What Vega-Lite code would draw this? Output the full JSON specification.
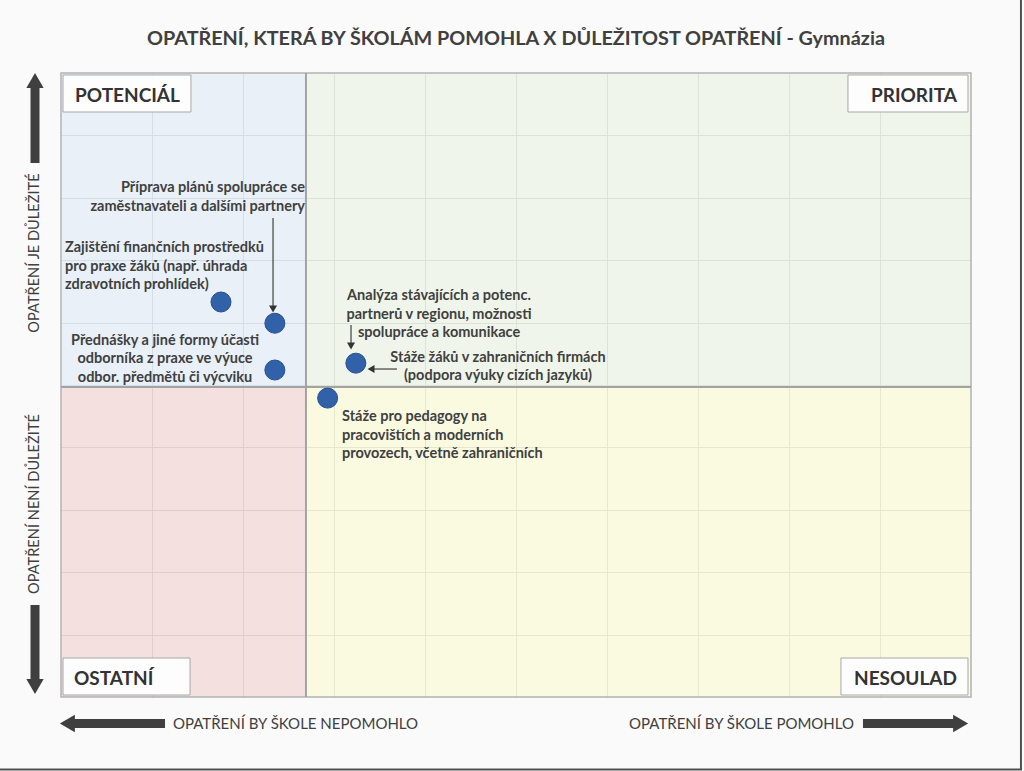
{
  "$schema": "https://vega.github.io/schema/vega-lite/v6.json",
  "width": 910,
  "height": 624,
  "autosize": {"type": "none"},
  "padding": {"left": 61, "top": 73, "right": 53, "bottom": 74},
  "background": "#fafafa",
  "title": {
    "text": "OPATŘENÍ, KTERÁ BY ŠKOLÁM POMOHLA X DŮLEŽITOST OPATŘENÍ - Gymnázia",
    "font": "Lato", "fontSize": 19.8, "fontWeight": "bold", "color": "#404040",
    "anchor": "middle", "frame": "group", "offset": -50
  },
  "config": {"view": {"stroke": null}},
  "datasets": {
    "quads": [
      {"q": "TL", "x": 0, "x2": 2.692, "y": 4.968, "y2": 10},
      {"q": "TR", "x": 2.692, "x2": 10, "y": 4.968, "y2": 10},
      {"q": "BL", "x": 0, "x2": 2.692, "y": 0, "y2": 4.968},
      {"q": "BR", "x": 2.692, "x2": 10, "y": 0, "y2": 4.968}
    ],
    "dividers": [
      {"x": 2.692, "x2": 2.692, "y": 0, "y2": 10},
      {"x": 0, "x2": 10, "y": 4.968, "y2": 4.968}
    ],
    "border": [{"x": 0, "x2": 10, "y": 0, "y2": 10}],
    "boxes": [
      {"label": "POTENCIÁL", "x": 0.022, "x2": 1.428, "y": 9.375, "y2": 9.968},
      {"label": "PRIORITA", "x": 8.648, "x2": 9.967, "y": 9.375, "y2": 9.968},
      {"label": "OSTATNÍ", "x": 0.022, "x2": 1.418, "y": 0.032, "y2": 0.625},
      {"label": "NESOULAD", "x": 8.571, "x2": 9.967, "y": 0.032, "y2": 0.625}
    ],
    "quadLabels": [
      {"label": "POTENCIÁL", "side": "left", "x": 0.154, "y": 9.625},
      {"label": "PRIORITA", "side": "right", "x": 9.846, "y": 9.625},
      {"label": "OSTATNÍ", "side": "left", "x": 0.143, "y": 0.29},
      {"label": "NESOULAD", "side": "right", "x": 9.846, "y": 0.29}
    ],
    "points": [
      {"name": "Zajištění finančních prostředků pro praxe žáků", "x": 1.758, "y": 6.33},
      {"name": "Příprava plánů spolupráce se zaměstnavateli a dalšími partnery", "x": 2.35, "y": 5.99},
      {"name": "Přednášky a jiné formy účasti odborníka z praxe", "x": 2.35, "y": 5.24},
      {"name": "Analýza partnerů / Stáže žáků v zahraničních firmách", "x": 3.24, "y": 5.35},
      {"name": "Stáže pro pedagogy na pracovištích", "x": 2.93, "y": 4.79}
    ],
    "notes": [
      {"text": "Příprava plánů spolupráce se\nzaměstnavateli a dalšími partnery", "align": "right", "x": 2.681, "y": 8.16},
      {"text": "Zajištění finančních prostředků\npro praxe žáků (např. úhrada\nzdravotních prohlídek)", "align": "left", "x": 0.044, "y": 7.2},
      {"text": "Přednášky a jiné formy účasti\nodborníka z praxe ve výuce\nodbor. předmětů či výcviku", "align": "center", "x": 1.143, "y": 5.71},
      {"text": "Analýza stávajících a potenc.\npartnerů v regionu, možnosti\nspolupráce a komunikace", "align": "center", "x": 4.154, "y": 6.43},
      {"text": "Stáže žáků v zahraničních firmách\n(podpora výuky cizích jazyků)", "align": "center", "x": 4.802, "y": 5.44},
      {"text": "Stáže pro pedagogy na\npracovištích a moderních\nprovozech, včetně zahraničních", "align": "left", "x": 3.088, "y": 4.49}
    ],
    "thinLines": [
      {"x": 2.33, "x2": 2.33, "y": 7.676, "y2": 6.266},
      {"x": 3.187, "x2": 3.187, "y": 5.962, "y2": 5.657},
      {"x": 3.692, "x2": 3.44, "y": 5.256, "y2": 5.256}
    ],
    "thinHeads": [
      {"dir": "down", "x": 2.33, "y": 6.218},
      {"dir": "down", "x": 3.187, "y": 5.625},
      {"dir": "left", "x": 3.407, "y": 5.256}
    ],
    "thickLines": [
      {"x": -0.2857, "x2": -0.2857, "y": 8.558, "y2": 9.776},
      {"x": -0.2857, "x2": -0.2857, "y": 1.474, "y2": 0.272},
      {"x": 1.143, "x2": 0.143, "y": -0.425, "y2": -0.425},
      {"x": 8.813, "x2": 9.813, "y": -0.425, "y2": -0.425}
    ],
    "thickHeads": [
      {"dir": "up", "x": -0.2857, "y": 9.881},
      {"dir": "down", "x": -0.2857, "y": 0.167},
      {"dir": "left", "x": 0.07, "y": -0.425},
      {"dir": "right", "x": 9.886, "y": -0.425}
    ],
    "axisTexts": [
      {"text": "OPATŘENÍ BY ŠKOLE NEPOMOHLO", "x": 2.577, "y": -0.44},
      {"text": "OPATŘENÍ BY ŠKOLE POMOHLO", "x": 7.478, "y": -0.44}
    ],
    "sideTexts": [
      {"text": "OPATŘENÍ JE DŮLEŽITÉ", "x": -0.2857, "y": 7.115},
      {"text": "OPATŘENÍ NENÍ DŮLEŽITÉ", "x": -0.2857, "y": 3.093}
    ],
    "frame": [
      {"x": 10.549, "x2": 10.549, "y": 11.17, "y2": -1.17},
      {"x": -0.68, "x2": 10.56, "y": -1.162, "y2": -1.162}
    ]
  },
  "layer": [
    {
      "data": {"name": "quads"},
      "mark": {"type": "rect", "opacity": 0.7},
      "encoding": {
        "x": {"field": "x", "type": "quantitative",
          "scale": {"domain": [0, 10], "nice": false, "zero": false},
          "axis": {"values": [1, 2, 3, 4, 5, 6, 7, 8, 9], "labels": false, "ticks": false, "domain": false, "title": null, "grid": true, "gridColor": "#bdbdbd", "gridWidth": 1}},
        "x2": {"field": "x2"},
        "y": {"field": "y", "type": "quantitative",
          "scale": {"domain": [0, 10], "nice": false, "zero": false},
          "axis": {"values": [1, 2, 3, 4, 5, 6, 7, 8, 9], "labels": false, "ticks": false, "domain": false, "title": null, "grid": true, "gridColor": "#bdbdbd", "gridWidth": 1}},
        "y2": {"field": "y2"},
        "color": {"field": "q", "type": "nominal", "legend": null,
          "scale": {"domain": ["TL", "TR", "BL", "BR"], "range": ["#e1ebf6", "#e9f2e2", "#f2d4d4", "#fafad4"]}}
      }
    },
    {
      "data": {"name": "border"},
      "mark": {"type": "rect", "fillOpacity": 0, "stroke": "#b3b3b3", "strokeWidth": 1.5},
      "encoding": {
        "x": {"field": "x", "type": "quantitative"}, "x2": {"field": "x2"},
        "y": {"field": "y", "type": "quantitative"}, "y2": {"field": "y2"}
      }
    },
    {
      "data": {"name": "dividers"},
      "mark": {"type": "rule", "color": "#a3a3a3", "strokeWidth": 2},
      "encoding": {
        "x": {"field": "x", "type": "quantitative"}, "x2": {"field": "x2"},
        "y": {"field": "y", "type": "quantitative"}, "y2": {"field": "y2"}
      }
    },
    {
      "data": {"name": "boxes"},
      "mark": {"type": "rect", "fill": "#fdfdfd", "stroke": "#a8a8a8", "strokeWidth": 1},
      "encoding": {
        "x": {"field": "x", "type": "quantitative"}, "x2": {"field": "x2"},
        "y": {"field": "y", "type": "quantitative"}, "y2": {"field": "y2"}
      }
    },
    {
      "data": {"name": "quadLabels"},
      "transform": [{"filter": "datum.side === 'left'"}],
      "mark": {"type": "text", "align": "left", "baseline": "middle", "font": "Lato", "fontSize": 19, "fontWeight": "bold", "color": "#333333"},
      "encoding": {
        "x": {"field": "x", "type": "quantitative"},
        "y": {"field": "y", "type": "quantitative"},
        "text": {"field": "label"}
      }
    },
    {
      "data": {"name": "quadLabels"},
      "transform": [{"filter": "datum.side === 'right'"}],
      "mark": {"type": "text", "align": "right", "baseline": "middle", "font": "Lato", "fontSize": 19, "fontWeight": "bold", "color": "#333333"},
      "encoding": {
        "x": {"field": "x", "type": "quantitative"},
        "y": {"field": "y", "type": "quantitative"},
        "text": {"field": "label"}
      }
    },
    {
      "data": {"name": "thinLines"},
      "mark": {"type": "rule", "color": "#404040", "strokeWidth": 1.2},
      "encoding": {
        "x": {"field": "x", "type": "quantitative"}, "x2": {"field": "x2"},
        "y": {"field": "y", "type": "quantitative"}, "y2": {"field": "y2"}
      }
    },
    {
      "data": {"name": "thinHeads"},
      "mark": {"type": "point", "filled": true, "size": 64, "color": "#333333", "opacity": 1},
      "encoding": {
        "x": {"field": "x", "type": "quantitative"},
        "y": {"field": "y", "type": "quantitative"},
        "shape": {"field": "dir", "type": "nominal", "legend": null,
          "scale": {"domain": ["up", "down", "left", "right"], "range": ["triangle-up", "triangle-down", "triangle-left", "triangle-right"]}}
      }
    },
    {
      "data": {"name": "points"},
      "mark": {"type": "circle", "size": 400, "fill": "#3161a9", "stroke": "#28508e", "strokeWidth": 1, "opacity": 1},
      "encoding": {
        "x": {"field": "x", "type": "quantitative"},
        "y": {"field": "y", "type": "quantitative"},
        "tooltip": {"field": "name"}
      }
    },
    {
      "data": {"name": "notes"},
      "transform": [{"filter": "datum.align === 'left'"}],
      "mark": {"type": "text", "align": "left", "baseline": "middle", "lineBreak": "\n", "lineHeight": 18.8, "font": "Lato", "fontSize": 14.5, "fontWeight": "bold", "color": "#404040"},
      "encoding": {
        "x": {"field": "x", "type": "quantitative"},
        "y": {"field": "y", "type": "quantitative"},
        "text": {"field": "text"}
      }
    },
    {
      "data": {"name": "notes"},
      "transform": [{"filter": "datum.align === 'right'"}],
      "mark": {"type": "text", "align": "right", "baseline": "middle", "lineBreak": "\n", "lineHeight": 18.8, "font": "Lato", "fontSize": 14.5, "fontWeight": "bold", "color": "#404040"},
      "encoding": {
        "x": {"field": "x", "type": "quantitative"},
        "y": {"field": "y", "type": "quantitative"},
        "text": {"field": "text"}
      }
    },
    {
      "data": {"name": "notes"},
      "transform": [{"filter": "datum.align === 'center'"}],
      "mark": {"type": "text", "align": "center", "baseline": "middle", "lineBreak": "\n", "lineHeight": 18.8, "font": "Lato", "fontSize": 14.5, "fontWeight": "bold", "color": "#404040"},
      "encoding": {
        "x": {"field": "x", "type": "quantitative"},
        "y": {"field": "y", "type": "quantitative"},
        "text": {"field": "text"}
      }
    },
    {
      "data": {"name": "thickLines"},
      "mark": {"type": "rule", "color": "#3f3f3f", "strokeWidth": 9, "strokeCap": "butt"},
      "encoding": {
        "x": {"field": "x", "type": "quantitative"}, "x2": {"field": "x2"},
        "y": {"field": "y", "type": "quantitative"}, "y2": {"field": "y2"}
      }
    },
    {
      "data": {"name": "thickHeads"},
      "mark": {"type": "point", "filled": true, "size": 300, "color": "#3f3f3f", "opacity": 1},
      "encoding": {
        "x": {"field": "x", "type": "quantitative"},
        "y": {"field": "y", "type": "quantitative"},
        "shape": {"field": "dir", "type": "nominal", "legend": null,
          "scale": {"domain": ["up", "down", "left", "right"], "range": ["triangle-up", "triangle-down", "triangle-left", "triangle-right"]}}
      }
    },
    {
      "data": {"name": "axisTexts"},
      "mark": {"type": "text", "align": "center", "baseline": "middle", "font": "Lato", "fontSize": 15, "fontWeight": "normal", "color": "#404040"},
      "encoding": {
        "x": {"field": "x", "type": "quantitative"},
        "y": {"field": "y", "type": "quantitative"},
        "text": {"field": "text"}
      }
    },
    {
      "data": {"name": "sideTexts"},
      "mark": {"type": "text", "align": "center", "baseline": "middle", "angle": 270, "font": "Lato", "fontSize": 14.6, "fontWeight": "normal", "color": "#404040"},
      "encoding": {
        "x": {"field": "x", "type": "quantitative"},
        "y": {"field": "y", "type": "quantitative"},
        "text": {"field": "text"}
      }
    },
    {
      "data": {"name": "frame"},
      "mark": {"type": "rule", "color": "#505050", "strokeWidth": 2},
      "encoding": {
        "x": {"field": "x", "type": "quantitative"}, "x2": {"field": "x2"},
        "y": {"field": "y", "type": "quantitative"}, "y2": {"field": "y2"}
      }
    }
  ]
}
